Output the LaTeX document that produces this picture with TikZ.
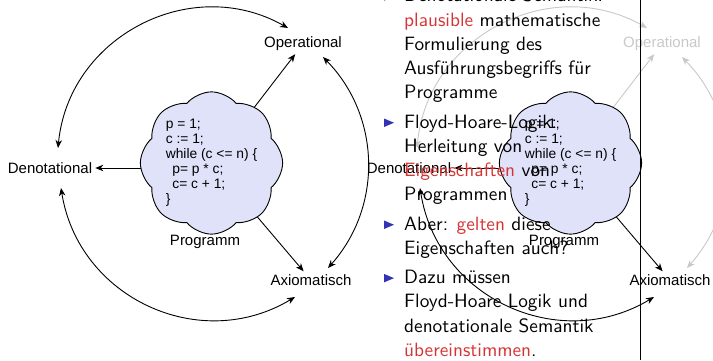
\documentclass[tikz,border=0pt]{standalone}
\usepackage{fontspec}
\newfontfamily\diafont{Liberation Sans}
\newfontfamily\slidefont{lmsans10-regular.otf}
\usetikzlibrary{shapes.symbols,backgrounds,arrows.meta}
\definecolor{cloudfill}{RGB}{224,226,250}
\definecolor{fadegray}{RGB}{200,200,200}
\definecolor{alertred}{RGB}{214,52,52}
\definecolor{bulletblue}{RGB}{51,51,179}
\newcommand{\redword}[1]{\textcolor{alertred}{#1}}
\tikzset{
  lbl/.style={inner sep=3pt, font=\diafont\fontsize{15}{18}\selectfont},
  progcloud/.style={cloud, cloud puffs=8, cloud puff arc=100, draw, line width=0.9pt,
    fill=cloudfill, minimum width=133pt, minimum height=140pt, inner sep=0pt,
    align=left, font=\diafont\fontsize{13.8}{15}\selectfont},
  link/.style={line width=0.9pt, <->},
  pointer/.style={line width=0.9pt, ->},
  txt/.style={anchor=base west, inner sep=0pt, font=\slidefont\fontsize{19.3}{24.3}\selectfont},
  >={Stealth[length=8pt,width=6.5pt,inset=2.5pt]}
}
\begin{document}
\begin{tikzpicture}[x=1pt,y=1pt]
\useasboundingbox (0,0) rectangle (713,360);
\foreach \dx/\n/\c in {0/a/black, 359/b/fadegray}{
  \node[progcloud] (prog\n) at (\dx+211.5,197) {p = 1;\\ c := 1;\\ while (c <= n) \{\\
    \hspace{6.5pt}p= p * c;\\ \hspace{6.5pt}c= c + 1;\\ \}};
  \node[lbl] (cap\n) at (\dx+205,118) {Programm};
  \node[lbl] (den\n) at (\dx+50,192) {Denotational};
  \node[lbl, text=\c] (op\n) at (\dx+303,316) {Operational};
  \node[lbl] (ax\n) at (\dx+311,80) {Axiomatisch};
  \begin{scope}[on background layer]
    \draw[pointer] (prog\n.center |- den\n) -- (den\n);
    \draw[pointer, \c] (prog\n.center) -- (op\n);
    \draw[pointer] (prog\n.center) -- (ax\n);
  \end{scope}
  \draw[link, \c] ([shift={(8,20)}]den\n.center) to[bend left=57, looseness=1.1] ([shift={(-15,16)}]op\n.center);
  \draw[link, \c] ([shift={(20,-13)}]op\n.center) to[bend left=43] ([shift={(17,12)}]ax\n.center);
  \draw[link] ([shift={(11,-20)}]den\n.center) to[bend right=56, looseness=1.1] ([shift={(-16,-17)}]ax\n.center);
}
\draw[line width=0.8pt] (640,0) -- (640,360);
\foreach \yy/\s [count=\i] in {
  358.3/{Denotationale Semantik:},
  334/{\redword{plausible} mathematische},
  309.7/{Formulierung des},
  285.4/{Ausführungsbegriffs für},
  261.1/{Programme},
  232/{Floyd-Hoare-Logik:},
  207.7/{Herleitung von},
  183.4/{\redword{Eigenschaften} von},
  159.1/{Programmen},
  130/{Aber: \redword{gelten} diese},
  105.7/{Eigenschaften auch?},
  76.6/{Dazu müssen},
  52.3/{Floyd-Hoare Logik und},
  28/{denotationale Semantik},
  3.7/{\redword{übereinstimmen}.}}
  \node[txt] (line\i) at (404,\yy) {\s};
\foreach \yy in {358.3,232,130,76.6}
  \fill[bulletblue] (384,\yy+1) -- (394,\yy+5.25) -- (384,\yy+9.5) -- cycle;
\end{tikzpicture}
\end{document}
